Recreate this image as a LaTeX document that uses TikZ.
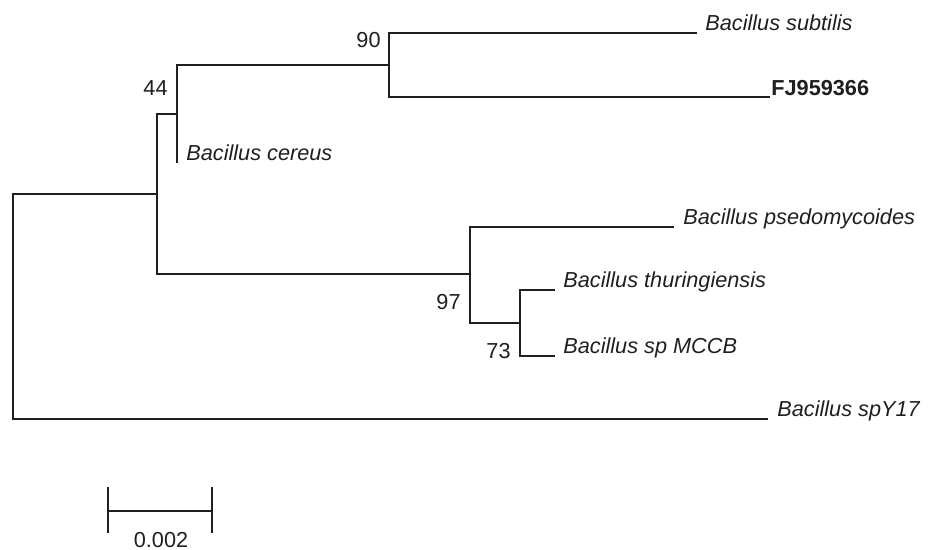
\documentclass[tikz,border=0pt]{standalone}
\usepackage{fontspec}
\setmainfont{Liberation Sans}
\begin{document}
\begin{tikzpicture}[x=0.5pt,y=-0.5pt,
  br/.style={line width=1.1pt,draw=black!88},
  taxon/.style={anchor=base west,inner sep=0pt,font=\fontsize{10.85}{13}\selectfont\itshape,text=black!88},
  boot/.style={anchor=base east,inner sep=0pt,font=\fontsize{10.85}{13}\selectfont,text=black!88}]
\useasboundingbox (0,0) rectangle (933,550);
% internal nodes
\coordinate (root) at (13,306);
\coordinate (A) at (157,194);
\coordinate (B) at (177,114);
\coordinate (C) at (389,65);
\coordinate (D) at (470,274);
\coordinate (E) at (520,323);
% leaf ends
\coordinate (sub) at (697,33);
\coordinate (fj) at (770,97);
\coordinate (cer) at (177,163);
\coordinate (pse) at (674,227);
\coordinate (thu) at (555,290);
\coordinate (mcc) at (555,356);
\coordinate (y17) at (768,419);
% branches
\draw[br] (root) |- (A);
\draw[br] (root) |- (y17);
\draw[br] (A) |- (B);
\draw[br] (A) |- (D);
\draw[br] (B) |- (C);
\draw[br] (B) -- (cer);
\draw[br] (C) |- (sub);
\draw[br] (C) |- (fj);
\draw[br] (D) |- (pse);
\draw[br] (D) |- (E);
\draw[br] (E) |- (thu);
\draw[br] (E) |- (mcc);
% taxa
\node[taxon] (tsub) at (705,31) {Bacillus subtilis};
\node[taxon,font=\fontsize{10.85}{13}\selectfont\bfseries] (tfj) at (771,96) {FJ959366};
\node[taxon] (tcer) at (186,161) {Bacillus cereus};
\node[taxon] (tpse) at (683,225) {Bacillus psedomycoides};
\node[taxon] (tthu) at (563,288) {Bacillus thuringiensis};
\node[taxon] (tmcc) at (563,354) {Bacillus sp MCCB};
\node[taxon] (ty17) at (777,417) {Bacillus spY17};
% bootstrap values
\node[boot] (b90) at (381,48) {90};
\node[boot] (b44) at (168,96) {44};
\node[boot] (b97) at (461,310) {97};
\node[boot] (b73) at (511,359) {73};
% scale bar
\coordinate (s1) at (108,511);
\coordinate (s2) at (212,511);
\draw[br] (s1) -- (s2);
\draw[br] ([yshift=12]s1) -- ([yshift=-11]s1);
\draw[br] ([yshift=12]s2) -- ([yshift=-11]s2);
\node[boot,anchor=base] (scl) at (161,548) {0.002};
\end{tikzpicture}
\end{document}
